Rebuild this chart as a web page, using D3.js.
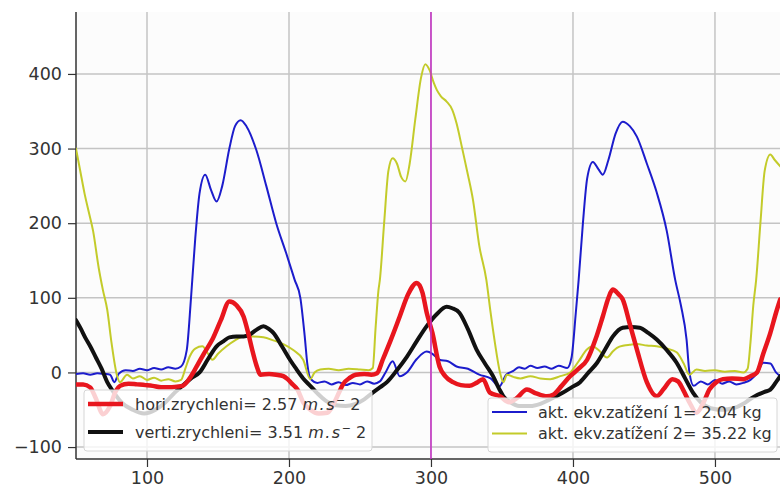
<!DOCTYPE html>
<html>
<head>
<meta charset="utf-8">
<script src="https://cdn.jsdelivr.net/npm/d3@7"></script>
<style>
  body { margin: 0; background: #fff; }
  text { font-family: "DejaVu Sans", sans-serif; }
</style>
</head>
<body>
<div id="chart"></div>
<script>
// series: [x, value]
var akt1 = [[50,-2],[55,-1],[60,-3],[65,-1],[70,-2],[74,-3],[77,-13],[80,-2],[85,3],[90,2],[95,5],[100,3],[105,6],[110,4],[115,7],[120,5],[124,8],[128,30],[131,100],[134,180],[137,240],[141,265],[145,245],[149,229],[153,250],[158,300],[162,330],[166,338],[170,330],[177,298],[184,250],[191,200],[198,160],[204,124],[208,100],[211,50],[213,10],[215,-8],[220,-14],[225,-12],[230,-16],[235,-13],[240,-17],[245,-14],[250,-16],[255,-12],[260,-15],[264,-12],[268,0],[273,15],[278,-5],[283,0],[290,18],[297,28],[301,25],[306,17],[312,15],[318,8],[326,5],[334,-3],[342,-8],[348,-19],[353,-3],[358,2],[362,7],[366,5],[370,9],[375,6],[380,8],[385,5],[390,9],[396,6],[399,20],[402,80],[404,124],[407,200],[410,260],[414,282],[418,272],[421,265],[425,285],[430,320],[435,336],[440,330],[445,316],[452,280],[459,241],[466,190],[472,124],[476,90],[480,44],[482,0],[485,-18],[490,-12],[495,-16],[500,-10],[505,-15],[510,-12],[515,-16],[520,-14],[525,-10],[530,0],[534,13],[539,12],[543,0],[546,-5]];

var akt2 = [[50,300],[53,270],[56,240],[59,215],[62,190],[66,140],[69,110],[72,84],[75,40],[79,-5],[81,-13],[86,-3],[90,-8],[95,-5],[100,-10],[105,-7],[110,-11],[115,-9],[120,-12],[124,-10],[127,5],[130,21],[134,32],[139,35],[143,25],[146,17],[150,25],[156,35],[162,43],[168,48],[175,48],[182,47],[189,43],[196,38],[203,30],[210,17],[215,-9],[218,0],[222,4],[228,5],[235,3],[242,5],[250,4],[256,3],[259,6],[261,60],[263,110],[264,124],[267,200],[270,270],[273,287],[276,280],[279,262],[282,256],[285,280],[289,340],[293,395],[296,413],[299,405],[302,388],[304,379],[307,370],[311,363],[315,352],[318,334],[322,300],[326,265],[329.6,231],[334,170],[339,124],[342,80],[345,40],[348.6,0],[351,-13],[353.5,-3],[358,-6],[363,-8],[370,-5],[377,-8],[384,-9],[391,-5],[398,0],[404,15],[410,31],[414,35],[418,30],[424,20],[428,28],[431,33],[436,36],[440,37],[445,38],[452,36],[459,35],[466,32],[473,27],[478,12],[482,-3],[487,4],[493,2],[500,3],[507,1],[514,2],[520,0],[523,5],[525,40],[527,90],[529,124],[532,200],[535,270],[539,292],[542,285],[546,276]];

var hori = [[50,-16],[55,-16],[60,-20],[64,-35],[69,-56],[74,-45],[78,-25],[81,-18],[87,-15],[93,-16],[99,-17],[104,-18],[110,-20],[116,-20],[121,-19],[125,-18],[130,-8],[135,8],[140,25],[146,44],[152,70],[158,95],[163,90],[168,75],[171,55],[174,31],[177,10],[180,-3],[186,-2],[191,-3],[196,-5],[199,-9],[202,-15],[206,-23],[210,-40],[215,-50],[221,-55],[227,-54],[232,-40],[235,-28],[238,-16],[243,-7],[247,-3],[253,-2],[258,-3],[262,-1],[266,17],[272,45],[278,75],[284,105],[290,120],[294,107],[297,80],[301,53],[306,8],[310,-5],[315.5,-13],[321,-17],[327,-18],[332,-14],[336.6,-9],[341.5,-27],[348.6,-32],[355,-40],[360,-35],[367.6,-23],[374,-28],[381.7,-32],[386,-30],[392,-18],[398,-5],[404,5],[410,17],[416,45],[421,75],[425,100],[428,111],[432,105],[435,98],[440,65],[445,31],[452,-13],[459,-32],[464,-22],[470,-9],[474,-12],[477.5,-23],[482,-40],[487,-54],[492,-40],[496,-23],[501,-13],[505.6,-9],[512,-8],[520,-9],[525,-5],[529.6,0],[534,25],[539,53],[543,80],[546,98]];

var verti = [[50,70],[53,60],[57,45],[60,35],[64,20],[68,5],[72,-13],[76,-25],[82,-40],[90,-50],[98,-55],[106,-50],[113,-40],[119,-28],[125,-18],[131,-8],[137,0],[143,18],[149,35],[154,42],[158,47],[163,48],[168,48],[172.5,51],[177,57],[182,62],[186,58],[189,53],[195,35],[200.7,17],[205,5],[210,-8],[215,-18],[220,-28],[226,-38],[233,-44],[240,-45],[247,-42],[253,-36],[259,-27],[264,-20],[269,-13],[276,3],[283,21],[290,42],[297,62],[304,78],[311,88],[315,86],[320,80],[326,58],[332,31],[338,12],[343.7,-5],[348,-22],[351,-32],[356,-40],[362,-45],[370,-45],[377,-42],[384,-36],[393,-27],[399,-20],[405,-13],[411,0],[417,13],[423,32],[428,48],[435,60],[441,61],[447,60],[453,53],[459,44],[466,30],[473,13],[479,-8],[484.5,-27],[490,-40],[497,-48],[505,-50],[513,-48],[520,-42],[524.6,-36],[530,-30],[535,-26],[539,-23],[543,-13],[546,-5]];

var cursorX = 300;
var xTicks = [100, 200, 300, 400, 500];
var yTicks = [-100, 0, 100, 200, 300, 400];
var legendAcc = ["hori.zrychleni= 2.57", "verti.zrychleni= 3.51"];
var legendLoad = ["akt. ekv.zatížení 1= 2.04 kg", "akt. ekv.zatížení 2= 35.22 kg"];

var svgWidth = 780;
var svgHeight = 492;
var plot = { left: 76, right: 780, top: 12, bottom: 459 };

var svg = d3.select("#chart")
  .append("svg")
  .attr("width", svgWidth)
  .attr("height", svgHeight);

var x = d3.scaleLinear().domain([50, 545.8]).range([plot.left, plot.right]);
var y = d3.scaleLinear().domain([-116, 483]).range([plot.bottom, plot.top]);

svg.append("defs").append("clipPath").attr("id", "clip")
  .append("rect")
  .attr("x", plot.left).attr("y", plot.top)
  .attr("width", plot.right - plot.left).attr("height", plot.bottom - plot.top);

svg.append("rect")
  .attr("x", plot.left).attr("y", plot.top)
  .attr("width", plot.right - plot.left).attr("height", plot.bottom - plot.top)
  .attr("fill", "#fcfcfc");

// grid
svg.append("g").selectAll("line").data(xTicks).enter().append("line")
  .attr("x1", d => x(d)).attr("x2", d => x(d))
  .attr("y1", plot.top).attr("y2", plot.bottom)
  .attr("stroke", "#c4c4c4").attr("stroke-width", 1.5);
svg.append("g").selectAll("line").data(yTicks).enter().append("line")
  .attr("x1", plot.left).attr("x2", plot.right)
  .attr("y1", d => y(d)).attr("y2", d => y(d))
  .attr("stroke", "#c4c4c4").attr("stroke-width", 1.5);

// axes
var bottomAxis = d3.axisBottom(x).tickValues(xTicks).tickSize(8).tickPadding(5);
var leftAxis = d3.axisLeft(y).tickValues(yTicks).tickSize(8).tickPadding(6);

var gx = svg.append("g")
  .attr("transform", `translate(0, ${plot.bottom})`)
  .call(bottomAxis);
var gy = svg.append("g")
  .attr("transform", `translate(${plot.left}, 0)`)
  .call(leftAxis);

[gx, gy].forEach(function(g) {
  g.select(".domain").attr("stroke", "#333").attr("stroke-width", 1.5);
  g.selectAll(".tick line").attr("stroke", "#333").attr("stroke-width", 1.2);
  g.selectAll(".tick text")
    .attr("fill", "#333")
    .style("font-size", "17.5px")
    .style("font-family", "DejaVu Sans, sans-serif");
});
gy.select(".domain").attr("d", `M0,${plot.top}V${plot.bottom}`);
gx.select(".domain").attr("d", `M${plot.left},0H${plot.right}`);

// lines
var line = d3.line()
  .x(d => x(d[0]))
  .y(d => y(d[1]))
  .curve(d3.curveMonotoneX);

var series = [
  { data: akt1, color: "#1c1ccc", width: 2 },
  { data: akt2, color: "#c3cb2a", width: 2 },
  { data: verti, color: "#111111", width: 4 },
  { data: hori, color: "#e8161e", width: 4.5 }
];

var lines = svg.append("g").attr("clip-path", "url(#clip)");
lines.selectAll("path")
  .data(series)
  .enter()
  .append("path")
  .attr("d", d => line(d.data))
  .attr("fill", "none")
  .attr("stroke", d => d.color)
  .attr("stroke-width", d => d.width)
  .attr("stroke-linejoin", "round")
  .attr("stroke-linecap", "round");

// cursor
svg.append("line")
  .attr("x1", x(cursorX)).attr("x2", x(cursorX))
  .attr("y1", plot.top).attr("y2", plot.bottom)
  .attr("stroke", "#c62cc6")
  .attr("stroke-width", 1.5);

// legend 1 (accelerations)
var leg1 = svg.append("g").attr("transform", "translate(84, 390)");
leg1.append("rect")
  .attr("width", 288).attr("height", 61).attr("rx", 3)
  .attr("fill", "rgba(255,255,255,0.8)")
  .attr("stroke", "#d6d6d6");
var acc = leg1.selectAll("g.item")
  .data([{ label: legendAcc[0], color: "#e8161e", w: 4.5 }, { label: legendAcc[1], color: "#111111", w: 4 }])
  .enter().append("g")
  .attr("transform", (d, i) => `translate(0, ${14 + i * 28})`);
acc.append("line")
  .attr("x1", 4).attr("x2", 39)
  .attr("stroke", d => d.color).attr("stroke-width", d => d.w);
var accText = acc.append("text")
  .attr("x", 51).attr("dy", "0.35em")
  .attr("fill", "#333")
  .style("font-size", "16px");
accText.append("tspan").text(d => d.label + " ");
accText.append("tspan").text("m.s").style("font-style", "italic").attr("letter-spacing", "1.5");
accText.append("tspan").text("\u2212").attr("dy", "-6").style("font-size", "11px");
accText.append("tspan").text(" 2").attr("dy", "6");

// legend 2 (loads)
var leg2 = svg.append("g").attr("transform", "translate(488, 398)");
leg2.append("rect")
  .attr("width", 289).attr("height", 54).attr("rx", 3)
  .attr("fill", "rgba(255,255,255,0.8)")
  .attr("stroke", "#d6d6d6");
var load = leg2.selectAll("g.item")
  .data([{ label: legendLoad[0], color: "#1c1ccc" }, { label: legendLoad[1], color: "#c3cb2a" }])
  .enter().append("g")
  .attr("transform", (d, i) => `translate(0, ${14 + i * 21.6})`);
load.append("line")
  .attr("x1", 4).attr("x2", 39)
  .attr("stroke", d => d.color).attr("stroke-width", 2);
load.append("text")
  .attr("x", 50).attr("dy", "0.35em")
  .attr("fill", "#333")
  .style("font-size", "16px")
  .text(d => d.label);
</script>
</body>
</html>
